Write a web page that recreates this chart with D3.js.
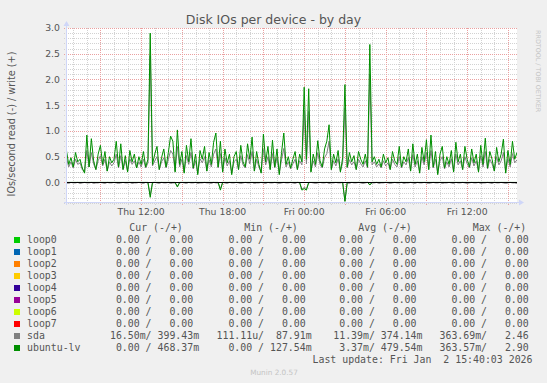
<!DOCTYPE html>
<meta charset="utf-8">
<style>
body { margin: 0; background: #f0f0f0; }
svg text { font-family: "DejaVu Sans", sans-serif; fill: #555; }
svg text.mono { font-family: "DejaVu Sans Mono", monospace; font-size: 9.9px; white-space: pre; }
</style>
<body>
<script src="https://d3js.org/d3.v7.min.js"></script>
<script>

var deviceNames = ["loop0", "loop1", "loop2", "loop3", "loop4", "loop5", "loop6", "loop7", "sda", "ubuntu-lv"];
var deviceColors = ["#00cc00", "#0066b3", "#ff8000", "#ffcc00", "#330099", "#990099", "#ccff00", "#ff0000", "#808080", "#008f00"];

var curText = ["  0.00 /   0.00 ", "  0.00 /   0.00 ", "  0.00 /   0.00 ", "  0.00 /   0.00 ", "  0.00 /   0.00 ",
               "  0.00 /   0.00 ", "  0.00 /   0.00 ", "  0.00 /   0.00 ", " 16.50m/ 399.43m", "  0.00 / 468.37m"];
var minText = ["  0.00 /   0.00 ", "  0.00 /   0.00 ", "  0.00 /   0.00 ", "  0.00 /   0.00 ", "  0.00 /   0.00 ",
               "  0.00 /   0.00 ", "  0.00 /   0.00 ", "  0.00 /   0.00 ", "111.11u/  87.91m", "  0.00 / 127.54m"];
var avgText = ["  0.00 /   0.00 ", "  0.00 /   0.00 ", "  0.00 /   0.00 ", "  0.00 /   0.00 ", "  0.00 /   0.00 ",
               "  0.00 /   0.00 ", "  0.00 /   0.00 ", "  0.00 /   0.00 ", " 11.39m/ 374.14m", "  3.37m/ 479.54m"];
var maxText = ["  0.00 /   0.00 ", "  0.00 /   0.00 ", "  0.00 /   0.00 ", "  0.00 /   0.00 ", "  0.00 /   0.00 ",
               "  0.00 /   0.00 ", "  0.00 /   0.00 ", "  0.00 /   0.00 ", "363.69m/   2.46 ", "363.57m/   2.90 "];

var yTicks = [0, 0.5, 1.0, 1.5, 2.0, 2.5, 3.0];

// one sample every 10 minutes from Thu 06:30
var firstSample = new Date(2026, 0, 1, 6, 30),
    stepMinutes = 10;

var lvWrite = [
  0.62, 0.35, 0.48, 0.30, 0.58, 0.40, 0.45, 0.28, 0.18, 0.92, 0.30, 0.85, 0.42, 0.25, 0.55, 0.72, 0.35, 0.60, 0.22, 0.50,
  0.38, 0.45, 0.80, 0.30, 0.75, 0.25, 0.52, 0.20, 0.62, 0.40, 0.55, 0.28, 0.50, 0.35, 0.60, 0.30, 0.45, 2.90, 0.35, 0.55,
  0.70, 0.25, 0.48, 0.65, 0.30, 0.58, 0.90, 0.80, 0.20, 1.02, 0.35, 0.60, 0.18, 0.72, 0.40, 0.85, 0.28, 0.55, 0.15, 0.62,
  0.45, 0.70, 0.22, 0.58, 0.35, 0.78, 0.96, 0.30, 0.80, 0.20, 0.65, 0.38, 0.55, 0.15, 0.50, 0.60, 0.25, 0.72, 0.40, 0.30,
  0.75, 0.45, 0.88, 0.22, 0.60, 0.35, 0.18, 0.94, 0.40, 0.70, 0.25, 0.82, 0.30, 0.65, 0.15, 0.58, 0.96, 0.35, 0.50, 0.28,
  0.45, 0.60, 0.25, 0.55, 0.40, 1.85, 0.45, 1.82, 0.20, 0.55, 0.35, 0.81, 0.42, 0.30, 0.65, 0.80, 1.12, 0.25, 0.55, 0.38,
  0.62, 0.20, 0.48, 1.90, 0.30, 0.58, 0.40, 0.52, 0.25, 0.60, 0.45, 0.35, 0.55, 0.30, 2.68, 0.40, 0.50, 0.35, 0.45, 0.30,
  0.55, 0.38, 0.48, 0.25, 0.60, 0.42, 0.35, 0.70, 0.30, 0.50, 0.40, 0.65, 0.22, 0.75, 0.35, 0.55, 0.18, 0.68, 0.40, 0.83,
  0.25, 0.92, 0.30, 0.60, 0.15, 0.55, 0.70, 0.28, 0.50, 0.35, 0.62, 0.20, 0.78, 0.40, 0.55, 0.25, 0.70, 0.45, 0.30, 0.65,
  0.38, 0.55, 0.20, 0.72, 0.35, 0.86, 0.28, 0.60, 0.45, 0.22, 0.68, 0.40, 0.55, 0.84, 0.18, 0.62, 0.35, 0.80, 0.45, 0.58
];

var sdaWrite = [
  0.48, 0.30, 0.40, 0.28, 0.45, 0.35, 0.38, 0.25, 0.20, 0.62, 0.30, 0.58, 0.36, 0.25, 0.42, 0.52, 0.32, 0.45, 0.22, 0.40,
  0.32, 0.38, 0.55, 0.28, 0.52, 0.25, 0.42, 0.22, 0.46, 0.35, 0.42, 0.28, 0.40, 0.30, 0.45, 0.28, 0.38, 2.46, 0.32, 0.42,
  0.50, 0.25, 0.40, 0.48, 0.28, 0.44, 0.62, 0.55, 0.22, 0.70, 0.30, 0.45, 0.20, 0.52, 0.35, 0.58, 0.26, 0.42, 0.18, 0.46,
  0.38, 0.50, 0.22, 0.44, 0.30, 0.55, 0.65, 0.28, 0.56, 0.22, 0.48, 0.32, 0.42, 0.18, 0.40, 0.45, 0.25, 0.52, 0.34, 0.28,
  0.54, 0.36, 0.60, 0.22, 0.45, 0.30, 0.20, 0.64, 0.34, 0.50, 0.25, 0.56, 0.28, 0.48, 0.18, 0.44, 0.66, 0.30, 0.40, 0.26,
  0.36, 0.45, 0.25, 0.42, 0.34, 1.40, 0.36, 1.38, 0.22, 0.42, 0.30, 0.58, 0.35, 0.28, 0.48, 0.56, 0.80, 0.25, 0.42, 0.32,
  0.46, 0.22, 0.38, 1.45, 0.28, 0.44, 0.34, 0.40, 0.25, 0.45, 0.36, 0.30, 0.42, 0.28, 2.10, 0.34, 0.40, 0.30, 0.36, 0.28,
  0.42, 0.32, 0.38, 0.25, 0.45, 0.35, 0.30, 0.50, 0.28, 0.40, 0.34, 0.48, 0.22, 0.54, 0.30, 0.42, 0.20, 0.50, 0.34, 0.58,
  0.25, 0.62, 0.28, 0.45, 0.18, 0.42, 0.50, 0.26, 0.40, 0.30, 0.46, 0.22, 0.55, 0.34, 0.42, 0.25, 0.50, 0.36, 0.28, 0.48,
  0.32, 0.42, 0.22, 0.52, 0.30, 0.60, 0.26, 0.45, 0.36, 0.22, 0.50, 0.34, 0.42, 0.58, 0.20, 0.46, 0.30, 0.56, 0.38, 0.44
];

var lvRead = [
  0, 0, 0, 0, 0, 0, 0, 0, 0, 0, 0, 0, 0, 0, 0, 0, 0, 0, 0, 0,
  0, 0, 0, 0, 0, 0, 0, 0, 0, 0, 0, 0, 0, 0, 0, 0, 0, 0.29, 0, 0,
  0, 0, 0, 0, 0, 0, 0, 0, 0, 0.09, 0, 0, 0, 0, 0, 0, 0, 0, 0, 0,
  0, 0, 0, 0, 0, 0, 0, 0, 0.15, 0, 0, 0, 0, 0, 0, 0, 0, 0, 0, 0,
  0, 0, 0, 0, 0, 0, 0, 0, 0, 0, 0, 0, 0, 0, 0, 0, 0, 0, 0, 0,
  0, 0, 0, 0, 0.15, 0.12, 0.15, 0, 0, 0, 0, 0, 0, 0, 0, 0, 0, 0, 0, 0,
  0, 0, 0, 0.37, 0, 0, 0, 0, 0, 0, 0, 0, 0, 0, 0.05, 0, 0, 0, 0, 0,
  0, 0, 0, 0, 0, 0, 0, 0, 0, 0, 0, 0, 0, 0, 0, 0, 0, 0, 0, 0,
  0, 0, 0, 0, 0, 0, 0, 0, 0, 0, 0, 0, 0, 0, 0, 0, 0, 0, 0, 0,
  0, 0, 0, 0, 0, 0, 0, 0, 0, 0, 0, 0, 0, 0, 0, 0, 0, 0, 0, 0
];

var sdaRead = [
  .01, .02, 0, .01, .01, 0, .02, .01, 0, .01, .01, 0, .02, .01, .01, 0, .01, .02, 0, .01,
  .01, 0, .01, .02, .01, 0, .01, .01, 0, .02, .01, .01, 0, .01, .02, 0, .01, .25, .01, 0,
  .01, .02, 0, .01, .01, 0, .02, .01, .01, .07, .01, 0, .01, .02, 0, .01, .01, 0, .02, .01,
  .01, 0, .01, .01, .02, 0, .01, .01, .12, 0, .01, .02, 0, .01, .01, 0, .01, .02, .01, 0,
  .01, .01, 0, .02, .01, .01, 0, .01, .02, 0, .01, .01, 0, .01, .02, .01, 0, .01, .01, 0,
  .01, .02, 0, .01, .13, .10, .12, .01, 0, .01, .02, .01, 0, .01, .01, 0, .02, .01, .01, 0,
  .01, .01, 0, .36, .01, .02, 0, .01, .01, 0, .01, .02, .01, 0, .04, .01, .01, 0, .02, .01,
  .01, 0, .01, .02, .01, 0, .01, .01, 0, .02, .01, .01, 0, .01, .02, 0, .01, .01, 0, .01,
  .02, .01, 0, .01, .01, 0, .02, .01, .01, 0, .01, .02, 0, .01, .01, 0, .01, .02, .01, 0,
  .01, .01, 0, .02, .01, .01, 0, .01, .02, 0, .01, .01, 0, .01, .02, .01, 0, .01, .01, .02
];

var w = 547,
    h = 383,
    plotLeft = 66,
    plotTop = 28,
    plotWidth = 451,
    plotHeight = 175;

var x = d3.scaleTime()
    .domain([new Date(2026, 0, 1, 6, 28), new Date(2026, 0, 2, 15, 40, 3)])
    .range([plotLeft, plotLeft + plotWidth]);

var y = d3.scaleLinear()
    .domain([-0.4, 3.0])
    .range([plotTop + plotHeight, plotTop]);

function timeAt(i) { return new Date(firstSample.getTime() + i * stepMinutes * 60000); }
function crisp(v) { return Math.round(v) + 0.5; }

var svg = d3.select("body").append("svg")
    .attr("width", w)
    .attr("height", h);

svg.append("rect")
    .attr("x", plotLeft)
    .attr("y", plotTop)
    .attr("width", plotWidth)
    .attr("height", plotHeight)
    .attr("fill", "#ffffff");

// grid: minor every 0.1 / 1 hour, major every 0.5 / 3 hours
var minorY = d3.range(-4, 31).map(function(k) { return k / 10; }),
    majorY = minorY.filter(function(v) { return Math.abs(Math.round(v * 10)) % 5 === 0; }),
    minorX = x.ticks(d3.timeHour.every(1)),
    majorX = x.ticks(d3.timeHour.every(3)),
    labelX = x.ticks(d3.timeHour.every(6));

var grid = svg.append("g")
    .attr("stroke-dasharray", "1,1")
    .attr("stroke-width", 1);

function hLines(vals, color) {
  grid.selectAll(null)
      .data(vals)
    .enter().append("line")
      .attr("x1", plotLeft - 2)
      .attr("x2", plotLeft + plotWidth)
      .attr("y1", function(d) { return crisp(y(d)); })
      .attr("y2", function(d) { return crisp(y(d)); })
      .attr("stroke", color);
}

function vLines(vals, color) {
  grid.selectAll(null)
      .data(vals)
    .enter().append("line")
      .attr("x1", function(d) { return crisp(x(d)); })
      .attr("x2", function(d) { return crisp(x(d)); })
      .attr("y1", plotTop)
      .attr("y2", plotTop + plotHeight + 2)
      .attr("stroke", color);
}

hLines(minorY, "#d2d2d2");
vLines(minorX, "#d2d2d2");
hLines(majorY, "#eaa0a0");
vLines(majorX, "#eaa0a0");

svg.append("clipPath")
    .attr("id", "plot")
  .append("rect")
    .attr("x", plotLeft)
    .attr("y", plotTop - 2)
    .attr("width", plotWidth)
    .attr("height", plotHeight + 2);

var series = [
  {values: sdaRead, sign: -1, color: deviceColors[8]},
  {values: sdaWrite, sign: 1, color: deviceColors[8]},
  {values: lvRead, sign: -1, color: deviceColors[9]},
  {values: lvWrite, sign: 1, color: deviceColors[9]}
];

var line = d3.line()
    .x(function(d) { return x(d.t); })
    .y(function(d) { return y(d.v); });

svg.append("g")
    .attr("clip-path", "url(#plot)")
  .selectAll("path")
    .data(series)
  .enter().append("path")
    .attr("fill", "none")
    .attr("stroke", function(d) { return d.color; })
    .attr("stroke-width", 1)
    .attr("d", function(d) {
      return line(d.values.map(function(v, i) { return {t: timeAt(i), v: d.sign * v}; }));
    });

svg.append("line")
    .attr("x1", plotLeft)
    .attr("x2", plotLeft + plotWidth)
    .attr("y1", crisp(y(0)))
    .attr("y2", crisp(y(0)))
    .attr("stroke", "#000");

// axes with arrows
var axisColor = "#cfd6f8";

svg.append("line")
    .attr("x1", plotLeft + 0.5).attr("x2", plotLeft + 0.5)
    .attr("y1", plotTop - 2).attr("y2", plotTop + plotHeight + 2)
    .attr("stroke", axisColor);

svg.append("line")
    .attr("x1", plotLeft - 2).attr("x2", plotLeft + plotWidth + 2)
    .attr("y1", plotTop + plotHeight - 0.5).attr("y2", plotTop + plotHeight - 0.5)
    .attr("stroke", axisColor);

svg.append("path")
    .attr("d", "M" + (plotLeft - 2.5) + "," + (plotTop - 2) + "L" + (plotLeft + 3.5) + "," + (plotTop - 2) +
        "L" + (plotLeft + 0.5) + "," + (plotTop - 7) + "Z")
    .attr("fill", axisColor);

svg.append("path")
    .attr("d", "M" + (plotLeft + plotWidth + 2) + "," + (plotTop + plotHeight - 3.5) + "L" + (plotLeft + plotWidth + 2) + "," +
        (plotTop + plotHeight + 2.5) + "L" + (plotLeft + plotWidth + 7) + "," + (plotTop + plotHeight - 0.5) + "Z")
    .attr("fill", axisColor);

svg.selectAll(".ylab")
    .data(yTicks)
  .enter().append("text")
    .attr("class", "ylab")
    .attr("x", plotLeft - 6)
    .attr("y", function(d) { return y(d) + 3.3; })
    .attr("text-anchor", "end")
    .style("font-size", "9.3px")
    .text(d3.format(".1f"));

svg.selectAll(".xlab")
    .data(labelX)
  .enter().append("text")
    .attr("class", "xlab")
    .attr("x", function(d) { return x(d); })
    .attr("y", 215)
    .attr("text-anchor", "middle")
    .style("font-size", "9.3px")
    .text(d3.timeFormat("%a %H:%M"));

svg.append("text")
    .attr("x", w / 2)
    .attr("y", 23.5)
    .attr("text-anchor", "middle")
    .style("font-size", "12.5px")
    .text("Disk IOs per device - by day");

svg.append("text")
    .attr("transform", "translate(14.5,124) rotate(-90)")
    .attr("text-anchor", "middle")
    .style("font-size", "9.7px")
    .text("IOs/second read (-) / write (+)");

svg.append("text")
    .attr("transform", "translate(536,30) rotate(90)")
    .style("font-size", "6.4px")
    .style("fill", "#c4c4c4")
    .text("RRDTOOL / TOBI OETIKER");

// legend
var headers = [["Cur (-/+)", 129.3], ["Min (-/+)", 244.3], ["Avg (-/+)", 358.3], ["Max (-/+)", 472.7]];
var columns = [[curText, 104], [minText, 216.5], [avgText, 327.3], [maxText, 439.5]];

svg.selectAll(".head")
    .data(headers)
  .enter().append("text")
    .attr("class", "mono head")
    .attr("x", function(d) { return d[1]; })
    .attr("y", 231)
    .text(function(d) { return d[0]; });

var row = svg.selectAll(".row")
    .data(deviceNames)
  .enter().append("g")
    .attr("class", "row")
    .attr("transform", function(d, i) { return "translate(0," + (243.3 + i * 12) + ")"; });

row.append("rect")
    .attr("x", 14)
    .attr("y", -6.3)
    .attr("width", 6)
    .attr("height", 6)
    .attr("fill", function(d, i) { return deviceColors[i]; });

row.append("text")
    .attr("class", "mono")
    .attr("x", 27)
    .text(function(d) { return d; });

columns.forEach(function(c) {
  row.append("text")
      .attr("class", "mono")
      .attr("x", c[1])
      .text(function(d, i) { return c[0][i]; });
});

svg.append("text")
    .attr("class", "mono")
    .attr("x", 532.5)
    .attr("y", 363)
    .attr("text-anchor", "end")
    .text("Last update: Fri Jan  2 15:40:03 2026");

svg.append("text")
    .attr("x", 274)
    .attr("y", 375)
    .attr("text-anchor", "middle")
    .style("font-size", "7.3px")
    .style("fill", "#c4c4c4")
    .text("Munin 2.0.57");

</script>
